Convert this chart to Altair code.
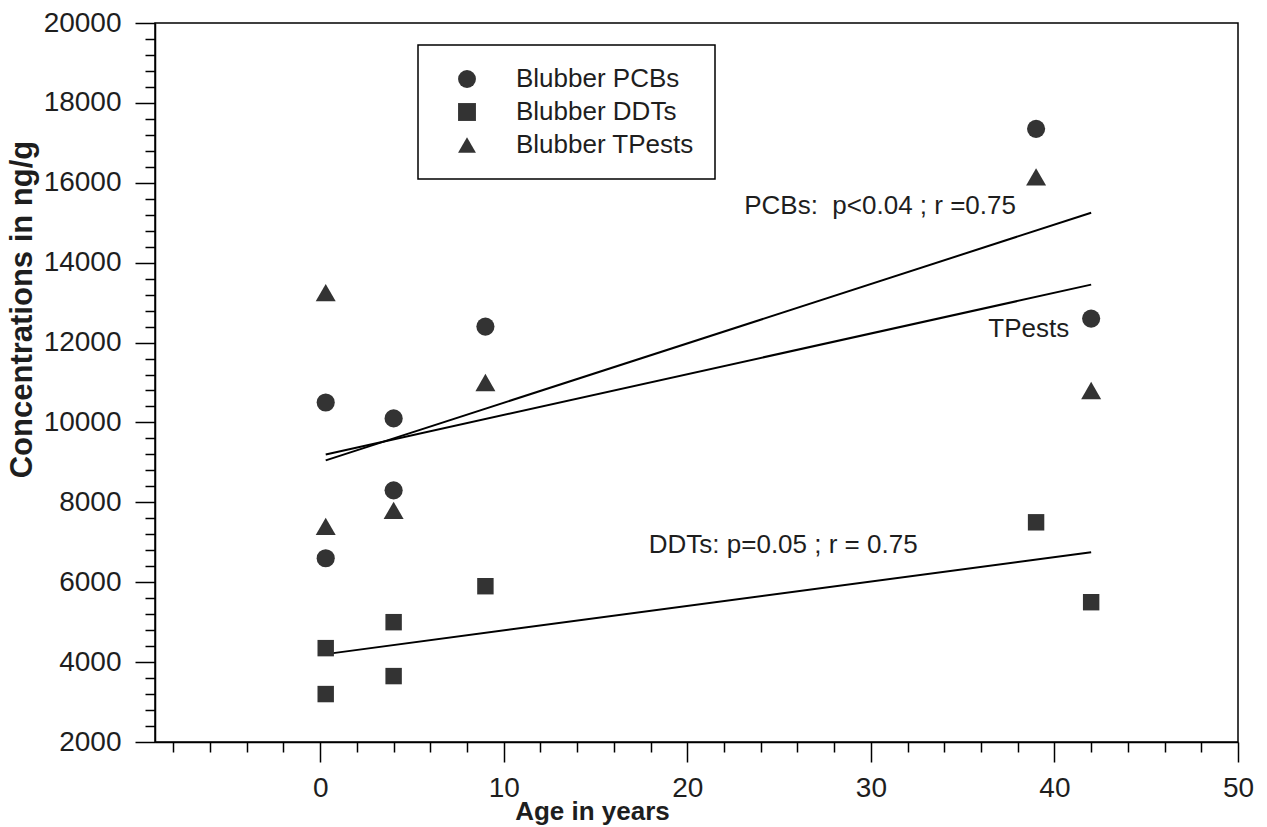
import altair as alt
import pandas as pd

# ---- data ----
series_names = ["Blubber PCBs", "Blubber DDTs", "Blubber TPests"]

ages_pcb = [0.3, 0.3, 4, 4, 9, 39, 42]
pcbs = [10500, 6600, 10100, 8300, 12400, 17350, 12600]

ages_ddt = [0.3, 0.3, 4, 4, 9, 39, 42]
ddts = [4350, 3200, 5000, 3650, 5900, 7500, 5500]

ages_tp = [0.3, 0.3, 4, 9, 39, 42]
tpests = [13250, 7400, 7800, 11000, 16150, 10800]

# regression line end points
fit_age = [0.3, 42]
fit_pcb = [9050, 15250]
fit_tp = [9200, 13450]
fit_ddt = [4200, 6750]

# annotations
ann_text = ["PCBs:\u00a0 p<0.04 ; r =0.75", "TPests", "DDTs: p=0.05 ; r = 0.75"]
ann_x = [23.1, 36.4, 17.9]
ann_y = [15430, 12350, 6940]

x_ticks = list(range(-8, 51, 2))
y_ticks = list(range(2000, 20001, 400))

# ---- tables ----
pcb_df = pd.DataFrame({"age": ages_pcb, "conc": pcbs, "series": series_names[0]})
ddt_df = pd.DataFrame({"age": ages_ddt, "conc": ddts, "series": series_names[1]})
tp_df = pd.DataFrame({"age": ages_tp, "conc": tpests, "series": series_names[2]})

fits = pd.concat([
    pd.DataFrame({"age": fit_age, "conc": fit_pcb, "fit": "PCBs"}),
    pd.DataFrame({"age": fit_age, "conc": fit_tp, "fit": "TPests"}),
    pd.DataFrame({"age": fit_age, "conc": fit_ddt, "fit": "DDTs"}),
], ignore_index=True)

ann = pd.DataFrame({"text": ann_text, "age": ann_x, "conc": ann_y})

FONT = "Liberation Sans"
INK = "#333333"
TXT = "#1e1e1e"

x_scale = alt.Scale(domain=[-9, 50], nice=False, zero=False)
y_scale = alt.Scale(domain=[2000, 20000], nice=False, zero=False)
shape_scale = alt.Scale(domain=series_names, range=["circle", "square", "triangle-up"])

x_axis = alt.Axis(
    values=x_ticks,
    tickCount=200,
    format="d",
    labelOverlap=False,
    labelExpr="datum.value % 10 === 0 ? datum.label : ''",
    tickSize={"condition": {"test": "datum.value % 10 === 0", "value": 20}, "value": 10},
    labelPadding=12,
    labelFontSize=28,
    labelFont=FONT,
    labelColor=TXT,
    labelFlush=False,
    grid=False,
    title="Age in years",
    titleFont=FONT,
    titleFontSize=26,
    titleFontWeight="bold",
    titleColor=TXT,
    titleX=437,
    titleY=77,
    titleBaseline="alphabetic",
    titleAlign="center",
)

y_axis = alt.Axis(
    values=y_ticks,
    tickCount=200,
    labelOverlap=False,
    labelExpr="datum.value % 2000 === 0 ? datum.label : ''",
    format="d",
    tickSize={"condition": {"test": "datum.value % 2000 === 0", "value": 20}, "value": 10},
    labelPadding=14,
    labelFontSize=28,
    labelFont=FONT,
    labelColor=TXT,
    labelFlush=False,
    grid=False,
    title="Concentrations in ng/g",
    titleFont=FONT,
    titleFontSize=31,
    titleFontWeight="bold",
    titleColor=TXT,
    titleX=-133,
    titleY=286,
    titleAngle=-90,
    titleBaseline="middle",
    titleAlign="center",
)

legend = alt.Legend(
    title=None,
    orient="none",
    legendX=263,
    legendY=22,
    strokeColor="black",
    fillColor="white",
    padding=21,
    symbolOffset=15,
    labelOffset=36,
    labelLimit=400,
    rowPadding=7,
    labelFontSize=26,
    labelFont=FONT,
    labelColor=TXT,
    symbolSize=320,
    symbolFillColor=INK,
    symbolStrokeColor=INK,
    symbolStrokeWidth=0,
)

lines = alt.Chart(fits).mark_line(color="black", strokeWidth=2).encode(
    x=alt.X("age:Q", scale=x_scale, axis=x_axis),
    y=alt.Y("conc:Q", scale=y_scale, axis=y_axis),
    detail="fit:N",
)


def point_layer(df, size):
    return alt.Chart(df).mark_point(filled=True, opacity=1, color=INK, size=size).encode(
        x=alt.X("age:Q", scale=x_scale),
        y=alt.Y("conc:Q", scale=y_scale),
        shape=alt.Shape("series:N", scale=shape_scale, legend=legend),
    )


pts_pcb = point_layer(pcb_df, 330)
pts_ddt = point_layer(ddt_df, 270)
pts_tp = point_layer(tp_df, 400)

texts = alt.Chart(ann).mark_text(
    align="left", baseline="middle", fontSize=26, font=FONT, color=TXT
).encode(
    x=alt.X("age:Q", scale=x_scale),
    y=alt.Y("conc:Q", scale=y_scale),
    text="text:N",
)

chart = alt.layer(lines, pts_pcb, pts_ddt, pts_tp, texts).properties(
    width=1083,
    height=719,
    autosize=alt.AutoSizeParams(type="none"),
    padding={"left": 155, "top": 23, "right": 29, "bottom": 85},
    background="white",
).configure_view(
    stroke="black", strokeWidth=1.5
).configure_axis(
    domainColor="black", domainWidth=1.5, tickColor="black", tickWidth=1.5
).configure_legend(
    strokeWidth=1.5, cornerRadius=0
)

chart.save("out.html", embed_options={"renderer": "svg", "actions": False})
